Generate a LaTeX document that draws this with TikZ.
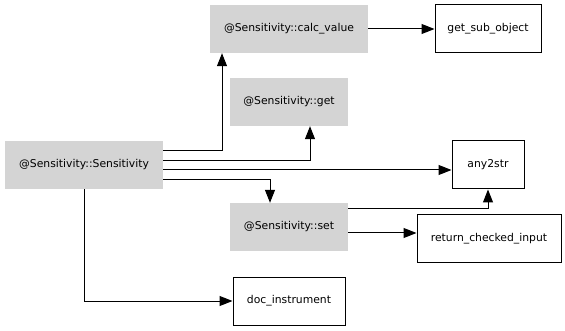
\documentclass[tikz,border=0pt]{standalone}
\usepackage{fontspec}
\setmainfont{DejaVu Sans}
\usepackage{tikz}
\usetikzlibrary{arrows.meta}

\begin{document}
\begin{tikzpicture}[x=1pt, y=-1pt, >={Triangle[length=13pt,width=10pt]},
        meth/.style={fill=black!17, minimum height=48pt, inner sep=0pt, font=\fontsize{10.8}{12}\selectfont},
        ext/.style={draw, line width=1pt, fill=white, minimum height=48pt, inner sep=0pt, font=\fontsize{10.8}{12}\selectfont},
        call/.style={->, line width=1pt}]
        \useasboundingbox[fill=white] (0,0) rectangle (565,331);

        % Methods of the class (grey boxes)
        \node[meth, minimum width=158pt] (sens) at (84,165) {@Sensitivity::Sensitivity};
        \node[meth, minimum width=158pt] (calc) at (289,29) {@Sensitivity::calc\_value};
        \node[meth, minimum width=118pt] (get) at (289,102) {@Sensitivity::get};
        \node[meth, minimum width=118pt] (set) at (289,227) {@Sensitivity::set};

        % Outside functions (white boxes)
        \node[ext, minimum width=106pt] (subobj) at (488,29) {get\_sub\_object};
        \node[ext, minimum width=72pt] (any) at (488,165) {any2str};
        \node[ext, minimum width=144pt] (retin) at (489,239) {return\_checked\_input};
        \node[ext, minimum width=112pt] (doc) at (289,301) {doc\_instrument};

        % Calls from the constructor
        \draw[call] ([yshift=14pt]sens.east) -| ([xshift=-67pt]calc.south);
        \draw[call] ([yshift=4pt]sens.east) -| ([xshift=21pt]get.south);
        \draw[call] ([yshift=-5pt]sens.east) -- ([yshift=-5pt]any.west);
        \draw[call] ([yshift=-15pt]sens.east) -| ([xshift=-19pt]set.north);
        \draw[call] (sens.south) |- (doc.west);

        % Calls from the other methods
        \draw[call] (calc) -- (subobj);
        \draw[call] ([yshift=18pt]set.east) -| (any.south);
        \draw[call] ([yshift=-6pt]set.east) -- ([yshift=6pt]retin.west);
    \end{tikzpicture}
\end{document}
